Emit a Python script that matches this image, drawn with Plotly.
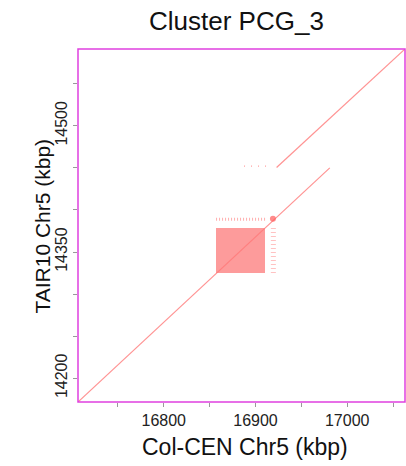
import plotly.graph_objects as go

# ---- data (kbp): Col-CEN Chr5 (x) vs TAIR10 Chr5 (y) ----
# collinear alignment segments
aln_x_start = [16706.5, 16923.0]
aln_x_end = [16981.0, 17063.0]
aln_y_start = [14171.8, 14450.4]
aln_y_end = [14450.0, 14591.2]

# tandem-repeat block (all-vs-all hits)
rep_x_start, rep_x_end = 16857.0, 16910.3
rep_y_start, rep_y_end = 14325.2, 14378.7

# partial repeat hits (sparse tracks)
hit_x_start = [16857.0, 16919.5, 16887.5]
hit_x_end = [16912.0, 16919.5, 16918.0]
hit_y_start = [14388.8, 14325.0, 14452.0]
hit_y_end = [14388.8, 14380.0, 14452.0]

# dense local hit
blob_x = [16919.0]
blob_y = [14389.4]

# axes
x_range = [16706.5, 17063.0]
y_range = [14171.8, 14591.2]
x_ticks = [16800, 16900, 17000]
y_ticks = [14200, 14350, 14500]

title_text = "Cluster PCG_3"
x_title = "Col-CEN Chr5 (kbp)"
y_title = "TAIR10 Chr5 (kbp)"

FONT = "Liberation Sans, Arial, sans-serif"
LINE_RED = "rgba(255,120,120,0.8)"


def seg_xy(xs, xe, ys, ye):
    X, Y = [], []
    for a, b, c, d in zip(xs, xe, ys, ye):
        X += [a, b, None]
        Y += [c, d, None]
    return X, Y


fig = go.Figure()

# repeat block as a patterned bar
fig.add_trace(go.Bar(
    x=[(rep_x_start + rep_x_end) / 2], width=[rep_x_end - rep_x_start],
    base=[rep_y_start], y=[rep_y_end - rep_y_start],
    marker=dict(color="rgba(255,120,120,0.75)", line=dict(width=0),
                pattern=dict(shape=".", fgcolor="rgba(245,55,55,0.9)",
                             bgcolor="rgba(255,140,140,0.65)",
                             size=2, solidity=0.5)),
    hoverinfo="skip", showlegend=False,
))

# main alignments
ax, ay = seg_xy(aln_x_start, aln_x_end, aln_y_start, aln_y_end)
fig.add_trace(go.Scatter(x=ax, y=ay, mode="lines",
                         line=dict(color=LINE_RED, width=1.2),
                         hoverinfo="skip", showlegend=False))

# row above block
fig.add_trace(go.Scatter(x=[hit_x_start[0], hit_x_end[0]], y=[hit_y_start[0], hit_y_end[0]],
                         mode="lines", line=dict(color="rgba(255,110,110,0.55)", width=3, dash="1px,2px"),
                         hoverinfo="skip", showlegend=False))
# column right of block
fig.add_trace(go.Scatter(x=[hit_x_start[1], hit_x_end[1]], y=[hit_y_start[1], hit_y_end[1]],
                         mode="lines", line=dict(color="rgba(255,120,120,0.45)", width=5, dash="1px,3px"),
                         hoverinfo="skip", showlegend=False))
# sparse dots near upper alignment
fig.add_trace(go.Scatter(x=[hit_x_start[2], hit_x_end[2]], y=[hit_y_start[2], hit_y_end[2]],
                         mode="lines", line=dict(color="rgba(255,120,120,0.7)", width=1.2, dash="1px,6px"),
                         hoverinfo="skip", showlegend=False))
# blob
fig.add_trace(go.Scatter(x=blob_x, y=blob_y, mode="markers",
                         marker=dict(color="rgba(255,90,90,0.7)", size=6),
                         hoverinfo="skip", showlegend=False))

axis_common = dict(showgrid=False, zeroline=False, showline=False,
                   ticks="outside", ticklen=4, tickcolor="#999999", tickwidth=1,
                   tickfont=dict(family=FONT, size=16, color="#222222"))

fig.update_xaxes(range=x_range, tickvals=x_ticks, ticktext=[str(v) for v in x_ticks],
                 minor=dict(dtick=50, tick0=16700, ticks="outside", ticklen=4, tickcolor="#999999"),
                 **axis_common)
fig.update_yaxes(range=y_range, tickvals=y_ticks, ticktext=[str(v) for v in y_ticks],
                 tickangle=-90,
                 minor=dict(dtick=50, tick0=14200, ticks="outside", ticklen=4, tickcolor="#999999"),
                 **axis_common)

fig.add_shape(type="rect", xref="paper", yref="paper", x0=0, x1=1, y0=0, y1=1,
              line=dict(color="#e040e0", width=1.5), layer="above")

fig.add_annotation(text=title_text, xref="paper", yref="paper", x=0.486, y=1.079,
                   xanchor="center", yanchor="middle", showarrow=False,
                   font=dict(family=FONT, size=26, color="#111111"))
fig.add_annotation(text=x_title, xref="paper", yref="paper", x=0.511, y=-0.1266,
                   xanchor="center", yanchor="middle", showarrow=False,
                   font=dict(family=FONT, size=23, color="#111111"))
fig.add_annotation(text=y_title, xref="paper", yref="paper", x=-0.107, y=0.497,
                   xanchor="center", yanchor="middle", showarrow=False, textangle=-90,
                   font=dict(family=FONT, size=21, color="#111111"))

fig.update_layout(width=406, height=466, margin=dict(l=78, r=1, t=49, b=64),
                  paper_bgcolor="white", plot_bgcolor="white", barmode="overlay",
                  bargap=0, showlegend=False)

fig.write_html("out.html")
